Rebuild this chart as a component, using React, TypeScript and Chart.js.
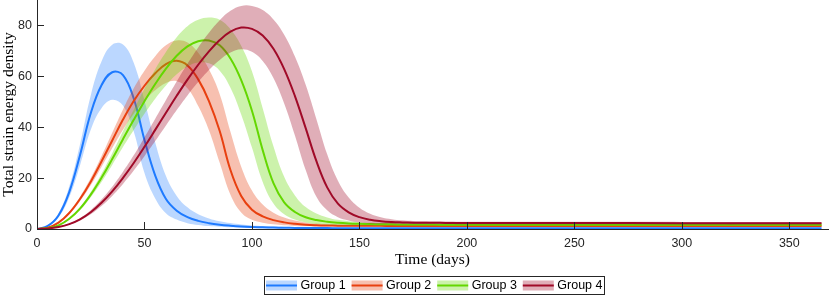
import React, { useEffect, useRef } from "react";
import { Chart, registerables } from "chart.js";

Chart.register(...registerables);

// ---------- data ----------
const TIME = [0, 5, 10, 15, 20, 25, 30, 35, 40, 45, 50, 55, 60, 65, 70, 75, 80, 85, 90, 95, 100,
  105, 110, 115, 120, 125, 130, 135, 140, 145, 150, 155, 160, 165, 170, 175, 180, 185, 190, 195, 200,
  250, 300, 365];

const X_TICKS = [0, 50, 100, 150, 200, 250, 300, 350];
const Y_TICKS = [0, 20, 40, 60, 80];
const GROUP_NAMES = ["Group 1", "Group 2", "Group 3", "Group 4"];

const G1 = [0, 1.2, 5.3, 14.5, 29, 45.5, 56.5, 61.6, 60.5, 51.3,
  35, 21, 11.8, 7.2, 4.7, 3.2, 2.3, 1.7, 1.3, 1.0,
  0.8, 0.66, 0.56, 0.49, 0.44, 0.4, 0.37, 0.35, 0.33, 0.32,
  0.31, 0.3, 0.3, 0.3, 0.3, 0.3, 0.3, 0.3, 0.3, 0.3, 0.3,
  0.3, 0.3, 0.3];
const G1_HI = [0, 1.5, 6.2, 16.7, 33.2, 52.5, 65.8, 72.4, 72.5, 65.3,
  50.5, 34, 20.8, 13, 8.5, 5.8, 4.15, 3.05, 2.32, 1.8,
  1.42, 1.16, 0.96, 0.83, 0.73, 0.65, 0.59, 0.55, 0.51, 0.49,
  0.47, 0.46, 0.45, 0.45, 0.45, 0.45, 0.45, 0.45, 0.45, 0.45, 0.45,
  0.45, 0.45, 0.45];
const G1_LO = [0, 0.9, 4.5, 12.5, 25, 39, 47.5, 50.8, 48.5, 38.3,
  22, 12, 6.2, 3.7, 2.3, 1.6, 1.15, 0.85, 0.65, 0.5,
  0.4, 0.33, 0.28, 0.25, 0.22, 0.2, 0.18, 0.17, 0.16, 0.16,
  0.15, 0.15, 0.15, 0.15, 0.15, 0.15, 0.15, 0.15, 0.15, 0.15, 0.15,
  0.15, 0.15, 0.15];

const G2 = [0, 0.5, 2.5, 6.3, 11.8, 18.6, 26.5, 34.8, 43, 50.3,
  56.3, 61.2, 64.8, 66.1, 64.3, 58.8, 50.3, 38.5, 23.2, 13,
  7.6, 5, 3.5, 2.6, 2.05, 1.7, 1.5, 1.38, 1.31, 1.27,
  1.25, 1.24, 1.23, 1.22, 1.21, 1.2, 1.2, 1.2, 1.2, 1.2, 1.2,
  1.2, 1.2, 1.2];
const G2_HI = [0, 0.55, 2.7, 6.75, 12.65, 20, 28.6, 37.8, 47, 55.3,
  62.2, 67.9, 72.2, 74.1, 73.3, 69.3, 62.8, 53, 38.2, 24.5,
  15.1, 9.6, 6.4, 4.5, 3.35, 2.6, 2.15, 1.88, 1.71, 1.62,
  1.57, 1.54, 1.53, 1.52, 1.51, 1.5, 1.5, 1.5, 1.5, 1.5, 1.5,
  1.5, 1.5, 1.5];
const G2_LO = [0, 0.45, 2.3, 5.85, 10.95, 17.2, 24.4, 31.8, 39, 45.3,
  50.4, 54.5, 57.4, 58.1, 55.3, 48.3, 38.8, 26, 13.5, 6.5,
  3.6, 2.5, 1.85, 1.45, 1.2, 1.05, 0.98, 0.94, 0.92, 0.91,
  0.9, 0.9, 0.9, 0.9, 0.9, 0.9, 0.9, 0.9, 0.9, 0.9, 0.9,
  0.9, 0.9, 0.9];

const G3 = [0, 0.3, 1.4, 4.0, 8.0, 13.5, 20.1, 27.5, 35.3, 42.9,
  50.2, 57, 63, 68.1, 71.8, 73.8, 74.1, 72.2, 67, 58.5,
  46.5, 31, 18, 10.5, 6.7, 4.6, 3.5, 2.85, 2.45, 2.2,
  2.05, 1.95, 1.88, 1.83, 1.79, 1.76, 1.74, 1.72, 1.71, 1.7, 1.7,
  1.7, 1.7, 1.7];
const G3_HI = [0, 0.33, 1.5, 4.3, 8.6, 14.5, 21.7, 29.8, 38.4, 46.9,
  55.1, 62.8, 69.6, 75.4, 79.7, 82.2, 83.1, 82.2, 78.5, 72,
  62, 47.5, 32.5, 20.5, 13.2, 8.6, 6.1, 4.55, 3.6, 3.05,
  2.7, 2.5, 2.38, 2.3, 2.24, 2.18, 2.15, 2.13, 2.12, 2.11, 2.1,
  2.1, 2.1, 2.1];
const G3_LO = [0, 0.27, 1.3, 3.7, 7.4, 12.5, 18.5, 25.2, 32.2, 38.9,
  45.3, 51.2, 56.4, 60.8, 63.9, 65.4, 65.1, 62.2, 55.5, 45,
  32, 18.5, 10, 5.8, 3.7, 2.6, 2.0, 1.7, 1.52, 1.43,
  1.4, 1.38, 1.36, 1.35, 1.34, 1.32, 1.31, 1.3, 1.3, 1.3, 1.3,
  1.3, 1.3, 1.3];

const G4 = [0, 0.2, 0.8, 1.9, 3.8, 6.6, 10.3, 14.8, 20.1, 25.95,
  32.3, 38.95, 45.7, 52.35, 58.7, 64.55, 69.8, 74.25, 77.55, 79.15,
  78.65, 76.05, 70.85, 62.85, 52.25, 39.65, 26.65, 16.35, 9.95, 6.55,
  4.65, 3.6, 3.05, 2.75, 2.6, 2.5, 2.45, 2.42, 2.4, 2.38, 2.37,
  2.33, 2.3, 2.3];
const G4_HI = [0, 0.23, 0.9, 2.12, 4.25, 7.4, 11.55, 16.6, 22.5, 28.95,
  36, 43.35, 50.7, 57.95, 64.9, 71.35, 77.1, 82.05, 85.75, 87.65,
  87.65, 86.05, 82.35, 76.35, 67.75, 56.65, 43.15, 29.35, 18.95, 12.35,
  8.35, 6.0, 4.65, 3.85, 3.4, 3.15, 3.0, 2.92, 2.9, 2.88, 2.87,
  2.83, 2.8, 2.8];
const G4_LO = [0, 0.17, 0.7, 1.68, 3.35, 5.8, 9.05, 13, 17.7, 22.95,
  28.6, 34.55, 40.7, 46.75, 52.5, 57.75, 62.5, 66.45, 69.35, 70.65,
  69.65, 66.05, 59.35, 49.35, 36.75, 23.15, 12.65, 7.35, 4.65, 3.35,
  2.55, 2.2, 2.05, 2.0, 2.0, 1.98, 1.95, 1.94, 1.92, 1.9, 1.89,
  1.85, 1.82, 1.82];

// ---------- styles ----------
const LINE_COLORS = ["rgb(30,122,255)", "rgb(232,64,16)", "rgb(100,215,0)", "rgb(160,10,40)"];
const BAND_COLORS = ["rgba(30,122,255,0.3)", "rgba(232,64,16,0.33)", "rgba(100,215,0,0.33)", "rgba(160,10,40,0.33)"];
const AXIS_COLOR = "#262626";
const SANS = "'Liberation Sans', Arial, Helvetica, sans-serif";
const SERIF = "'Liberation Serif', 'Times New Roman', Times, serif";

const pts = (ys: number[]) => TIME.map((t, i) => ({ x: t, y: ys[i] }));

const inwardTicks = {
  id: "inwardTicks",
  afterDatasetsDraw(chart: any) {
    const { ctx, chartArea, scales } = chart;
    ctx.save();
    ctx.strokeStyle = AXIS_COLOR;
    ctx.lineWidth = 1;
    ctx.beginPath();
    for (const v of X_TICKS) {
      const x = Math.round(scales.x.getPixelForValue(v)) + 0.5;
      ctx.moveTo(x, chartArea.bottom);
      ctx.lineTo(x, chartArea.bottom - 7);
    }
    for (const v of Y_TICKS) {
      const y = Math.round(scales.y.getPixelForValue(v)) + 0.5;
      ctx.moveTo(chartArea.left, y);
      ctx.lineTo(chartArea.left + 7, y);
    }
    ctx.stroke();
    ctx.restore();
  },
};

const boxLegend = {
  id: "boxLegend",
  afterDraw(chart: any) {
    const { ctx } = chart;
    const left = 264.5, top = 276.5, w = 340, h = 18;
    const step = 85.6, patchW = 31, patchH = 10;
    const cy = top + h / 2;
    ctx.save();
    ctx.fillStyle = "#ffffff";
    ctx.fillRect(left, top, w, h);
    ctx.strokeStyle = AXIS_COLOR;
    ctx.lineWidth = 1;
    ctx.strokeRect(left, top, w, h);
    ctx.font = `12.5px ${SANS}`;
    ctx.textBaseline = "middle";
    ctx.textAlign = "left";
    GROUP_NAMES.forEach((name, i) => {
      const px = left + 1.5 + i * step;
      ctx.fillStyle = BAND_COLORS[i];
      ctx.fillRect(px, cy - patchH / 2, patchW, patchH);
      ctx.strokeStyle = LINE_COLORS[i];
      ctx.lineWidth = 2;
      ctx.beginPath();
      ctx.moveTo(px, cy);
      ctx.lineTo(px + patchW, cy);
      ctx.stroke();
      ctx.fillStyle = "#000000";
      ctx.fillText(name, px + patchW + 3.5, cy + 0.5);
    });
    ctx.restore();
  },
};

export default function App() {
  const ref = useRef<HTMLCanvasElement | null>(null);

  useEffect(() => {
    document.body.style.margin = "0";
    if (!ref.current) return;
    const groups = [
      [G1_LO, G1_HI, G1],
      [G2_LO, G2_HI, G2],
      [G3_LO, G3_HI, G3],
      [G4_LO, G4_HI, G4],
    ];
    const datasets: any[] = [];
    let order = 12;
    groups.forEach((g, i) => {
      datasets.push({
        data: pts(g[0]), borderWidth: 0, borderColor: "rgba(0,0,0,0)", pointRadius: 0,
        fill: false, tension: 0.4, order: order--,
      });
      datasets.push({
        data: pts(g[1]), borderWidth: 0, borderColor: "rgba(0,0,0,0)", pointRadius: 0,
        fill: "-1", backgroundColor: BAND_COLORS[i], tension: 0.4, order: order--,
      });
      datasets.push({
        label: GROUP_NAMES[i], data: pts(g[2]), borderWidth: 2, borderColor: LINE_COLORS[i],
        pointRadius: 0, fill: false, tension: 0.4, order: order--,
      });
    });

    const chart = new Chart(ref.current, {
      type: "line",
      data: { datasets },
      options: {
        animation: false,
        responsive: false,
        events: [],
        layout: { padding: { left: 0, right: 2, top: 0, bottom: 0 } },
        plugins: { legend: { display: false }, tooltip: { enabled: false } },
        scales: {
          x: {
            type: "linear",
            min: 0,
            max: 368,
            afterBuildTicks: (s: any) => { s.ticks = X_TICKS.map((v) => ({ value: v })); },
            afterFit: (s: any) => { s.height = 67; s.paddingLeft = 0; s.paddingRight = 0; },
            grid: { display: false, drawTicks: false },
            border: { display: true, color: AXIS_COLOR, width: 1 },
            ticks: { padding: 7, color: AXIS_COLOR, font: { family: SANS, size: 12.5 }, maxRotation: 0 },
            title: {
              display: true, text: "Time (days)", color: "#000",
              font: { family: SERIF, size: 15.5, lineHeight: 1.1 },
              padding: { top: 0, bottom: 28 },
            },
          },
          y: {
            type: "linear",
            min: 0,
            max: 90,
            afterBuildTicks: (s: any) => { s.ticks = Y_TICKS.map((v) => ({ value: v })); },
            afterFit: (s: any) => { s.width = 37; s.paddingTop = 0; s.paddingBottom = 0; },
            grid: { display: false, drawTicks: false },
            border: { display: true, color: AXIS_COLOR, width: 1 },
            ticks: { padding: 5, color: AXIS_COLOR, font: { family: SANS, size: 12.5 } },
            title: {
              display: true, text: "Total strain energy density", color: "#000",
              font: { family: SERIF, size: 15.5, lineHeight: 1.1 },
              padding: { top: 0, bottom: 0 },
            },
          },
        },
      },
      plugins: [inwardTicks, boxLegend],
    });
    return () => chart.destroy();
  }, []);

  return (
    <div style={{ width: 830, height: 296 }}>
      <canvas ref={ref} width={830} height={296} style={{ display: "block", width: 830, height: 296 }} />
    </div>
  );
}
